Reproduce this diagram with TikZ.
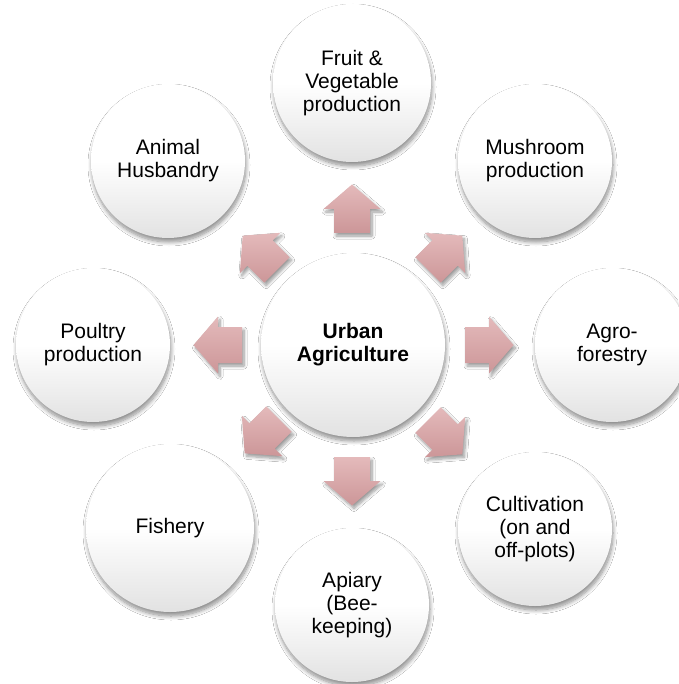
\documentclass[tikz,border=0pt]{standalone}
\usepackage{fontspec}
\setmainfont{Liberation Sans}
\usetikzlibrary{shadows.blur}
\definecolor{arrowtop}{RGB}{228,186,187}
\definecolor{arrowbot}{RGB}{204,150,152}
\definecolor{circbot}{RGB}{226,226,226}
\tikzset{
  item/.style={circle, minimum size=154pt, inner sep=0pt,
    top color=white, bottom color=circbot, middle color=white,
    blur shadow={shadow xshift=1pt, shadow yshift=-4pt, shadow blur radius=4pt, shadow blur steps=10, shadow opacity=45},
    align=center, text=black, font=\fontsize{21}{23}\selectfont},
  hub/.style={item, minimum size=184pt, font=\fontsize{21}{23}\selectfont\bfseries},
  bigitem/.style={item, minimum size=168pt},
  blockarrow/.style={top color=arrowtop, bottom color=arrowbot, draw=none,
    blur shadow={shadow xshift=2pt, shadow yshift=-3pt, shadow blur radius=3pt, shadow blur steps=8, shadow opacity=40}},
  barrow/.pic={\path[blockarrow] (-24pt,-18pt) -- (0pt,-18pt) -- (0pt,-28.5pt) -- (24.5pt,0pt) -- (0pt,28.5pt) -- (0pt,18pt) -- (-24pt,18pt) -- cycle;}
}
\begin{document}
\begin{tikzpicture}[x=1pt,y=1pt]
\useasboundingbox[fill=white] (0,0) rectangle (678,-684);
% arrows
\path (489,-345) pic[rotate=0]{barrow};
\path (352,-481) pic[rotate=-90]{barrow};
\path (218,-345) pic[rotate=180]{barrow};
\path (352,-209) pic[rotate=90]{barrow};
\path (445,-253) pic[rotate=45]{barrow};
\path (260,-253) pic[rotate=135]{barrow};
\path (262,-436) pic[rotate=-135]{barrow};
\path (445,-437) pic[rotate=-45]{barrow};
% circles
\node[hub] (hub) at (353,-345) {Urban\\Agriculture};
\node[item, minimum size=158pt] (fruit) at (352,-83) {Fruit \&\\Vegetable\\production};
\node[item] (mush) at (535,-161) {Mushroom\\production};
\node[item] (agro) at (612,-345) {Agro-\\forestry};
\node[item] (cult) at (535,-529) {Cultivation\\(on and\\off-plots)};
\node[item] (apiary) at (352,-605) {Apiary\\(Bee-\\keeping)};
\node[bigitem] (fish) at (170,-528) {Fishery};
\node[item] (poultry) at (93,-345) {Poultry\\production};
\node[item] (animal) at (168,-161) {Animal\\Husbandry};
\end{tikzpicture}
\end{document}
